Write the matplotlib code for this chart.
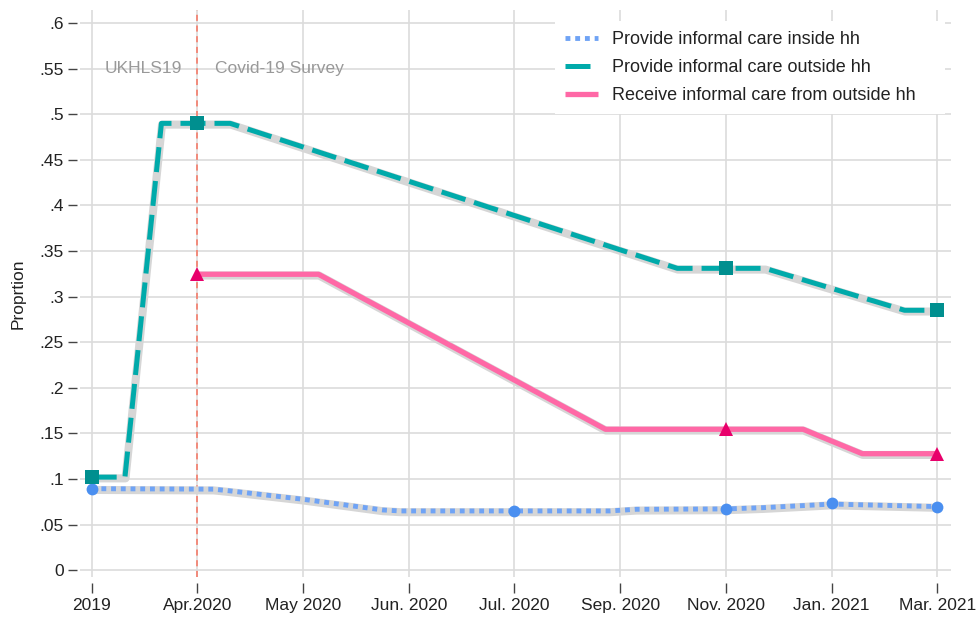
import matplotlib
matplotlib.use("Agg")
from matplotlib import pyplot as plt
from matplotlib.lines import Line2D
import matplotlib.patheffects as pe

plt.rcParams['font.family'] = ['Liberation Sans', 'DejaVu Sans']

# survey waves on the x axis
waves = ['2019', 'Apr.2020', 'May 2020', 'Jun. 2020', 'Jul. 2020',
         'Sep. 2020', 'Nov. 2020', 'Jan. 2021', 'Mar. 2021']

# provide care inside hh: drawn path and marked waves
inside_x = [0, 1.15, 1.3, 2.0, 2.75, 2.92, 4.9, 5.15, 6.0, 6.35, 6.85, 7.0, 7.15, 8]
inside_y = [.0893, .0888, .087, .0777, .066, .0649, .0649, .0667, .0671, .0685, .0715, .0725, .072, .0697]
inside_mx = [0, 4, 6, 7, 8]
inside_my = [.0893, .0649, .0671, .0733, .0697]

# provide care outside hh
outside_x = [0, 0.315, 0.66, 1.31, 5.54, 6.37, 7.69, 8]
outside_y = [.102, .102, .490, .490, .331, .331, .285, .285]
outside_mx = [0, 1, 6, 8]
outside_my = [.102, .490, .331, .285]

# receive care from outside hh
receive_x = [1, 2.146, 4.86, 6.73, 7.29, 8]
receive_y = [.3245, .3245, .1545, .1545, .1277, .1277]
receive_mx = [1, 6, 8]
receive_my = [.3245, .1545, .1277]

yticks = [0, .05, .1, .15, .2, .25, .3, .35, .4, .45, .5, .55, .6]

fig = plt.figure(figsize=(9.76, 6.19), dpi=100)
ax = fig.add_axes([0.082, 0.0679, 0.8924, 0.9159])

shadow = [pe.Stroke(offset=(0.4, -0.9))]
halo = dict(color='#d6d6d6', lw=5.8, solid_capstyle='butt', zorder=2, path_effects=shadow)

ax.axvline(1, color='#f7735f', lw=1.1, ls=(0, (4, 3)), zorder=1.5)

# gray halos
ax.plot(inside_x, inside_y, **halo)
ax.plot(outside_x, outside_y, **halo)
ax.plot(receive_x, receive_y, **halo)

# lines
ax.plot(inside_x, inside_y, color='#6fa3f5', lw=3.5, ls=(0, (1, 1)),
        dash_capstyle='butt', zorder=3)
ax.plot(outside_x, outside_y, color='#00aaaa', lw=3.6, ls=(0, (5, 1.8)),
        dash_capstyle='butt', zorder=3)
ax.plot(receive_x, receive_y, color='#ff68a6', lw=3.8, solid_capstyle='butt', zorder=3)

# markers
ax.plot(inside_mx, inside_my, 'o', color='#4a8ff0', ms=8.5, mew=0, zorder=4)
ax.plot(outside_mx, outside_my, 's', color='#008f8f', ms=9.8, mew=0, zorder=4)
ax.plot(receive_mx, receive_my, '^', color='#e8006b', ms=9.8, mew=0, zorder=4)

ax.text(0.126, 0.55, 'UKHLS19', color='#999999', fontsize=12.5, va='center')
ax.text(1.17, 0.55, 'Covid-19 Survey', color='#999999', fontsize=12.5, va='center')

ax.set_xlim(-0.11, 8.13)
ax.set_ylim(-0.0075, 0.6143)
ax.set_xticks(range(len(waves)))
ax.set_xticklabels(waves)
ax.set_yticks(yticks)
ax.set_yticklabels(['0' if v == 0 else ('%g' % v).lstrip('0') for v in yticks])

ax.grid(True, color='#dcdcdc', lw=1.2, zorder=0)
ax.set_axisbelow(True)
for s in ax.spines.values():
    s.set_visible(False)
ax.spines['bottom'].set_position(('outward', 4.3))
ax.spines['left'].set_position(('outward', 2.2))
ax.tick_params(axis='x', length=7, width=1, color='#444444', pad=4,
               labelsize=12.5, labelcolor='#222222')
ax.tick_params(axis='y', length=6.5, width=1, color='#444444', pad=3,
               labelsize=12.5, labelcolor='#222222')

ax.set_ylabel('Proprtion', fontsize=12.5, color='#222222')
ax.yaxis.set_label_coords(-0.063, 0.5)

handles = [
    Line2D([], [], color='#6fa3f5', lw=3.5, ls=(0, (1, 1)), dash_capstyle='butt'),
    Line2D([], [], color='#00aaaa', lw=3.6, ls=(0, (5, 1.8)), dash_capstyle='butt'),
    Line2D([], [], color='#ff68a6', lw=3.8, solid_capstyle='butt'),
]
labels = ['Provide informal care inside hh', 'Provide informal care outside hh',
          'Receive informal care from outside hh']
leg = ax.legend(handles, labels, loc='upper left', mode='expand',
                bbox_to_anchor=(0.5453, 0.78, 0.4478, 0.2006),
                borderaxespad=0, borderpad=0.55, fontsize=13, handlelength=1.83,
                handletextpad=0.8, labelspacing=0.62, frameon=True, fancybox=False,
                framealpha=1, facecolor='white', edgecolor='none')
for t in leg.get_texts():
    t.set_color('#222222')

fig.savefig('out.png', dpi=100)
